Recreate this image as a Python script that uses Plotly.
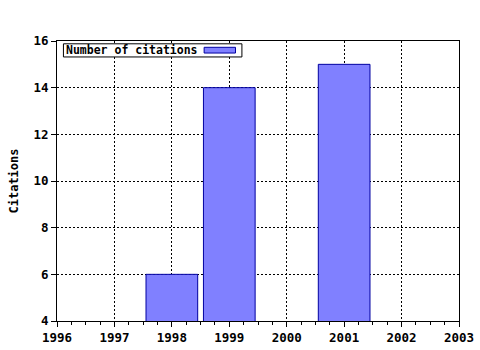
import plotly.graph_objects as go

years = [1998, 1999, 2001]
citations = [6, 14, 15]
series_name = "Number of citations"
x_ticks = [1996, 1997, 1998, 1999, 2000, 2001, 2002, 2003]
y_ticks = [4, 6, 8, 10, 12, 14, 16]

FONT = "DejaVu Sans Mono"

fig = go.Figure()
fig.add_trace(go.Bar(
    x=years, y=citations, name=series_name, width=0.9,
    marker=dict(color="#8080ff", line=dict(color="#0000a0", width=1)),
    showlegend=False,
))

axis_common = dict(
    showline=True, linecolor="black", linewidth=1, mirror=True,
    ticks="outside", ticklen=5, tickcolor="black",
    showgrid=True, gridcolor="black", griddash="2px,2px", gridwidth=1,
    zeroline=False, automargin=False,
    tickfont=dict(family=FONT, size=12.5, color="black", weight="bold"),
)

fig.update_xaxes(range=[1996, 2003], tickvals=x_ticks, ticktext=[str(v) for v in x_ticks],
                 minor=dict(dtick=0.25, ticks="outside", ticklen=3, tickcolor="black", showgrid=False),
                 **axis_common)
fig.update_yaxes(range=[4, 16], tickvals=y_ticks,
                 title=dict(text="Citations", font=dict(family=FONT, size=12, color="black", weight="bold"), standoff=12),
                 **axis_common)

# legend (text first, swatch after)
fig.add_shape(type="rect", xref="paper", yref="paper", x0=0.016, x1=0.460, y0=0.943, y1=0.990,
              line=dict(color="black", width=1), fillcolor="white", layer="above")
fig.add_shape(type="rect", xref="paper", yref="paper", x0=0.366, x1=0.444, y0=0.957, y1=0.9775,
              line=dict(color="#0000a0", width=1), fillcolor="#8080ff", layer="above")
fig.add_annotation(text=series_name, xref="paper", yref="paper", x=0.018, y=0.967,
                   xanchor="left", yanchor="middle", showarrow=False,
                   font=dict(family=FONT, size=11.5, color="black", weight="bold"))

fig.update_layout(
    width=480, height=350,
    margin=dict(l=57, r=21, t=41, b=29),
    paper_bgcolor="white", plot_bgcolor="white",
)

fig.write_html("out.html")
